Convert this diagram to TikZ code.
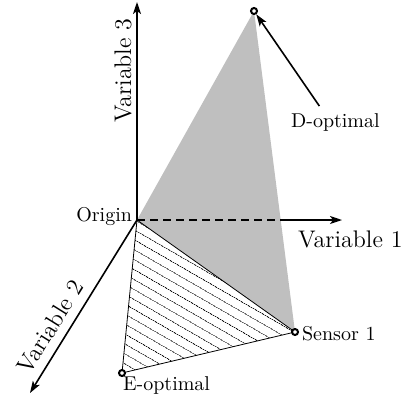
\documentclass[tikz,border=0pt]{standalone}
\usepackage{tikz}
\usetikzlibrary{arrows.meta, patterns.meta}

\begin{document}
\begin{tikzpicture}[
            font=\normalsize,
            >={Stealth[length=6pt, width=4pt, inset=1.5pt]},
            % one unit = one pixel of the sketch (0.5pt)
            axis/.style  ={line width=0.8pt},
            edge/.style  ={line width=0.4pt},
            ptc/.style   ={draw, fill=white, circle, line width=1pt, minimum size=3pt, inner sep=0pt},
            shade/.style ={fill=black!25},
            hatch/.style ={pattern={Lines[angle=-30, distance=4pt, line width=0.35pt]}},
            vlabel/.style={font=\large},
            x=0.5pt, y=0.5pt
        ]
        \useasboundingbox (0,0) rectangle (405,403);

        %% ===== axes ends and design points =====
        \coordinate (O)   at (137,183);
        \coordinate (v1d) at (280,183);
        \coordinate (v1)  at (342,183);
        \coordinate (v2)  at (30,10);
        \coordinate (v3)  at (137,401);
        \coordinate (D)   at (254,392);
        \coordinate (S)   at (295,71);
        \coordinate (E)   at (122,30);

        % shaded face and hatched face (drawn below the axes)
        \fill[shade] (O) -- (D) -- (S) -- cycle;
        \draw[edge, hatch] (O) -- (S) -- (E) -- cycle;

        \draw[axis, dash pattern=on 4pt off 2.5pt] (O) -- (v1d);
        \draw[axis, ->] (v1d) -- (v1);
        \draw[axis, ->] (O) -- (v3);
        \draw[axis, ->] (O) -- (v2);

        \node[ptc] (Dp) at (D) {};
        \node[ptc] (Sp) at (S) {};
        \node[ptc] (Ep) at (E) {};

        %% ===== labels =====
        \node[anchor=base east] (Ol) at (139,182) {Origin};
        \node[vlabel, anchor=base west] (v1l) at (291,156) {Variable 1};
        \node[vlabel, anchor=center, rotate=58] (v2l) at (50,76) {Variable 2};
        \node[vlabel, anchor=base west, rotate=90] (v3l) at (131,273) {Variable 3};
        \node[anchor=base west] (Sl) at (295,63) {Sensor 1};
        \node[anchor=base west] (El) at (116,13) {E-optimal};
        \node[anchor=base west] (Dl) at (284,276) {D-optimal};
        \draw[axis, ->] ([xshift=-8pt]Dl.north) -- (Dp);

    \end{tikzpicture}
\end{document}
